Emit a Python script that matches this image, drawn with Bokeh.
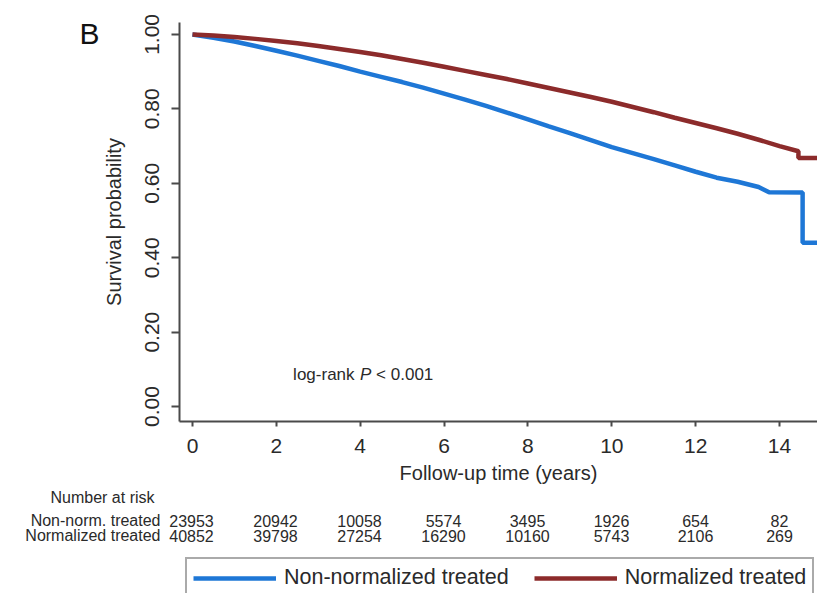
from bokeh.plotting import figure
from bokeh.layouts import column, row
from bokeh.models import (Range1d, FixedTicker, PrintfTickFormatter, Label,
                          Legend, LegendItem)
from bokeh.embed import file_html
from bokeh.resources import INLINE

# ---------------- data ----------------
time_nonnorm = [0, 0.5, 1, 1.5, 2, 2.5, 3, 3.5, 4, 4.5, 5, 5.5, 6, 6.5, 7, 7.5,
                8, 8.5, 9, 9.5, 10, 10.5, 11, 11.5, 12, 12.5, 13, 13.5, 13.75,
                14.55, 14.55, 14.9]
surv_nonnorm = [1.000, 0.991, 0.981, 0.969, 0.956, 0.943, 0.929, 0.915, 0.900,
                0.886, 0.872, 0.857, 0.841, 0.825, 0.808, 0.790, 0.772, 0.753,
                0.735, 0.716, 0.697, 0.681, 0.665, 0.648, 0.631, 0.615, 0.604,
                0.590, 0.576, 0.575, 0.440, 0.440]

time_norm = [0, 0.5, 1, 1.5, 2, 2.5, 3, 3.5, 4, 4.5, 5, 5.5, 6, 6.5, 7, 7.5,
             8, 8.5, 9, 9.5, 10, 10.5, 11, 11.5, 12, 12.5, 13, 13.5, 14,
             14.45, 14.45, 14.9]
surv_norm = [1.000, 0.997, 0.993, 0.988, 0.982, 0.976, 0.969, 0.961, 0.953,
             0.944, 0.934, 0.924, 0.913, 0.902, 0.891, 0.880, 0.868, 0.856,
             0.844, 0.832, 0.819, 0.805, 0.791, 0.776, 0.762, 0.748, 0.733,
             0.717, 0.700, 0.686, 0.668, 0.668]

x_ticks = [0, 2, 4, 6, 8, 10, 12, 14]
y_ticks = [0.0, 0.2, 0.4, 0.6, 0.8, 1.0]

risk_times = [0, 2, 4, 6, 8, 10, 12, 14]
risk_nonnorm = [23953, 20942, 10058, 5574, 3495, 1926, 654, 82]
risk_norm = [40852, 39798, 27254, 16290, 10160, 5743, 2106, 269]

series_names = ["Non-normalized treated", "Normalized treated"]
row_names = ["Non-norm. treated", "Normalized treated"]

# ---------------- style ----------------
FONT = "Liberation Sans"
TEXT = "#2a2a2a"
AXIS = "#4a4a4a"
BLUE = "#1e77d6"
RED = "#8c2b2b"

X_START, X_END = -0.3095, 14.905
TOP_H = 486
B_W = 99


def blank(fig):
    fig.outline_line_color = None
    fig.background_fill_color = "white"
    fig.border_fill_color = "white"
    fig.xgrid.visible = False
    fig.ygrid.visible = False


# ---------- panel letter ----------
pB = figure(width=B_W, height=TOP_H, output_backend="svg", toolbar_location=None,
            x_range=Range1d(0, B_W), y_range=Range1d(TOP_H, 0),
            x_axis_type=None, y_axis_type=None, min_border=0, title=None)
blank(pB)
pB.add_layout(Label(x=89, y=13, text="B", text_font=FONT,
                    text_font_size="30px", text_color="#111111",
                    text_align="center", text_baseline="middle"))

# ---------- main plot ----------
p = figure(width=817 - B_W, height=TOP_H, output_backend="svg",
           toolbar_location=None,
           x_range=Range1d(X_START, X_END), y_range=Range1d(-0.040, 1.032),
           min_border_left=178 - B_W, min_border_right=0, min_border_top=22,
           min_border_bottom=TOP_H - 421, title=None)
blank(p)

p.line(time_nonnorm, surv_nonnorm, line_color=BLUE, line_width=4.5)
p.line(time_norm, surv_norm, line_color=RED, line_width=4.5)

xa = p.xaxis[0]
xa.ticker = FixedTicker(ticks=x_ticks)
xa.axis_label = "Follow-up time (years)"
ya = p.yaxis[0]
ya.ticker = FixedTicker(ticks=y_ticks)
ya.formatter = PrintfTickFormatter(format="%.2f")
ya.axis_label = "Survival probability"
ya.major_label_orientation = "vertical"

for ax in (xa, ya):
    ax.axis_line_color = AXIS
    ax.axis_line_width = 2
    ax.major_tick_line_color = AXIS
    ax.major_tick_line_width = 2
    ax.major_tick_in = 0
    ax.minor_tick_line_color = None
    ax.major_label_text_font = FONT
    ax.major_label_text_font_size = "21px"
    ax.major_label_text_color = TEXT
    ax.axis_label_text_font = FONT
    ax.axis_label_text_font_size = "20px"
    ax.axis_label_text_font_style = "normal"
    ax.axis_label_text_color = TEXT
xa.major_tick_out = 5
xa.major_label_standoff = 12
xa.axis_label_standoff = 6
ya.major_tick_out = 8
ya.major_label_standoff = 12
ya.axis_label_standoff = 18

lr_kw = dict(x=2.4, y=0.086, text_font=FONT, text_font_size="17px",
             text_color=TEXT, text_align="left", text_baseline="middle")
p.add_layout(Label(text="log-rank", x_offset=0, **lr_kw))
p.add_layout(Label(text="P", x_offset=67, text_font_style="italic", **lr_kw))
p.add_layout(Label(text="< 0.001", x_offset=83, **lr_kw))

# ---------- number at risk + legend ----------
BOT_H = 593 - TOP_H
pt = figure(width=817, height=BOT_H, output_backend="svg", toolbar_location=None,
            x_range=Range1d(-191 / 42, X_END), y_range=Range1d(2, 3),
            x_axis_type=None, y_axis_type=None, min_border=0, title=None)
blank(pt)

# legend proxies (same series; they sit outside this panel's visible y range)
g1 = pt.line(time_nonnorm, surv_nonnorm, line_color=BLUE, line_width=4.5)
g2 = pt.line(time_norm, surv_norm, line_color=RED, line_width=4.5)

tbl_kw = dict(text_font=FONT, text_font_size="16px", text_color=TEXT,
              text_baseline="middle", y_units="screen")


def sy(canvas_y):
    return 593 - canvas_y


pt.add_layout(Label(x=102, y=sy(497), x_units="screen", text="Number at risk",
                    text_align="center", **tbl_kw))
row_y = [sy(520), sy(535)]
for name, yy in zip(row_names, row_y):
    pt.add_layout(Label(x=160, y=yy, x_units="screen", text=name,
                        text_align="right", **tbl_kw))
for counts, yy in zip([risk_nonnorm, risk_norm], row_y):
    for t, n in zip(risk_times, counts):
        pt.add_layout(Label(x=t, y=yy, x_units="data", text=str(n),
                            text_align="center", **tbl_kw))

legend = Legend(items=[LegendItem(label=series_names[0], renderers=[g1]),
                       LegendItem(label=series_names[1], renderers=[g2])],
                location=(185, -5), orientation="horizontal",
                border_line_color="#555555", border_line_width=2,
                background_fill_color="white", background_fill_alpha=1.0,
                padding=6, spacing=25, margin=0,
                glyph_width=83, glyph_height=24, label_standoff=8,
                label_text_font=FONT, label_text_font_size="21.5px",
                label_text_color=TEXT)
pt.add_layout(legend)

layout = column(row(pB, p), pt)
open("out.html", "w").write(file_html(layout, INLINE))
